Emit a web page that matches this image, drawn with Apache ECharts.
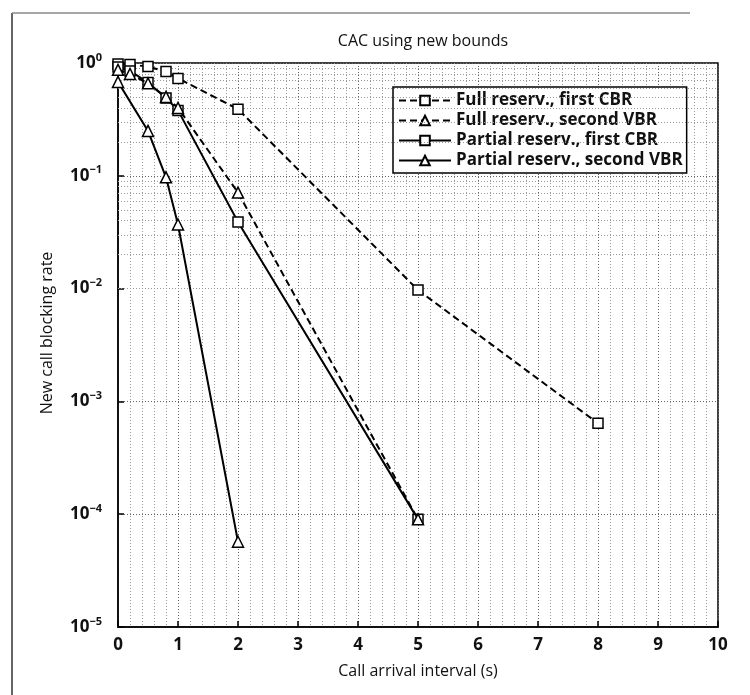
<!DOCTYPE html>
<html>
<head>
<meta charset="utf-8">
<script src="https://cdn.jsdelivr.net/npm/echarts@6/dist/echarts.min.js"></script>
<style>
  html, body { margin: 0; padding: 0; background: #fff; }
  #chart { width: 750px; height: 695px; }
</style>
</head>
<body>
<div id="chart"></div>
<script>
// Blocking probability of new calls versus call arrival interval
const seriesNames = [
  'Full reserv., first CBR',
  'Full reserv., second VBR',
  'Partial reserv., first CBR',
  'Partial reserv., second VBR'
];

const xFullCBR = [0, 0.2, 0.5, 0.8, 1, 2, 5, 8];
const yFullCBR = [0.98, 0.97, 0.93, 0.84, 0.73, 0.39, 0.0097, 0.00064];

const xFullVBR = [0, 0.2, 0.5, 0.8, 1, 2, 5];
const yFullVBR = [0.87, 0.80, 0.66, 0.50, 0.40, 0.071, 0.00009];

const xPartCBR = [0, 0.2, 0.5, 0.8, 1, 2, 5];
const yPartCBR = [0.92, 0.85, 0.67, 0.49, 0.38, 0.039, 0.00009];

const xPartVBR = [0, 0.5, 0.8, 1, 2];
const yPartVBR = [0.68, 0.25, 0.097, 0.037, 0.000057];

const xTicks = [0, 1, 2, 3, 4, 5, 6, 7, 8, 9, 10];
const yTickExps = [0, -1, -2, -3, -4, -5];

const zip = (xs, ys) => xs.map((x, i) => [x, ys[i]]);

// dotted minor grid at 2..9 of each decade
const minorGrid = [];
yTickExps.slice(1).forEach(e => {
  for (let m = 2; m <= 9; m++) minorGrid.push({ yAxis: m * Math.pow(10, e) });
});

const FONT = '"Open Sans", "Noto Sans", sans-serif';
const markerStyle = { color: '#fff', borderColor: '#000', borderWidth: 1.5 };

function makeSeries(name, data, symbol, dashed, size, z) {
  return {
    name: name,
    type: 'line',
    data: data,
    symbol: symbol,
    symbolSize: size,
    showAllSymbol: true,
    clip: true,
    lineStyle: { color: '#000', width: 2, type: dashed ? [7, 4] : 'solid' },
    itemStyle: markerStyle,
    z: z
  };
}

const chart = echarts.init(document.getElementById('chart'), null, { renderer: 'canvas' });

chart.setOption({
  backgroundColor: '#fff',
  animation: false,
  title: {
    text: 'CAC using new bounds',
    left: 418, top: 28, textAlign: 'center',
    textStyle: { fontFamily: FONT, fontSize: 16, fontWeight: 'normal', color: '#111' }
  },
  grid: {
    left: 118, top: 63, width: 600, height: 564,
    show: true, borderColor: '#000', borderWidth: 1.5, backgroundColor: 'transparent'
  },
  legend: {
    orient: 'vertical',
    left: 393, top: 87,
    itemWidth: 52, itemHeight: 12, itemGap: 3,
    padding: [5, 4, 4, 5],
    backgroundColor: '#fff',
    borderColor: '#000', borderWidth: 1.5, borderRadius: 0,
    textStyle: { fontFamily: FONT, fontSize: 17, fontWeight: 'bold', color: '#111' },
    data: seriesNames
  },
  xAxis: {
    type: 'value',
    min: 0, max: 10, interval: 1,
    name: 'Call arrival interval (s)',
    nameLocation: 'middle', nameGap: 36,
    nameTextStyle: { fontFamily: FONT, fontSize: 16, color: '#111' },
    axisLine: { lineStyle: { color: '#000', width: 1.5 } },
    axisTick: { inside: true, length: 6, lineStyle: { color: '#000', width: 1.5 } },
    axisLabel: {
      margin: 10, fontFamily: FONT, fontSize: 17, fontWeight: 'bold', color: '#111',
      formatter: v => (xTicks.indexOf(v) >= 0 ? String(v) : '')
    },
    splitLine: { show: true, lineStyle: { color: '#666', type: [1, 2], width: 1 } },
    minorTick: { show: false, splitNumber: 5 },
    minorSplitLine: { show: true, lineStyle: { color: '#999', type: [1, 2], width: 1 } }
  },
  yAxis: {
    type: 'log',
    logBase: 10,
    min: 1e-5, max: 1,
    axisLine: { lineStyle: { color: '#000', width: 1.5 } },
    axisTick: { inside: true, length: 6, lineStyle: { color: '#000', width: 1.5 } },
    axisLabel: {
      margin: 16,
      formatter: v => {
        const e = Math.round(Math.log10(v));
        if (yTickExps.indexOf(e) < 0) return '';
        const sup = e === 0 ? '0' : '\u2212' + (-e);
        return '{b|10}{s|' + sup + '}';
      },
      rich: {
        b: { fontFamily: FONT, fontSize: 17, fontWeight: 'bold', color: '#111', lineHeight: 22 },
        s: { fontFamily: FONT, fontSize: 11, fontWeight: 'bold', color: '#111', verticalAlign: 'top', lineHeight: 12 }
      }
    },
    splitLine: { show: true, lineStyle: { color: '#666', type: [1, 2], width: 1 } }
  },
  graphic: [
    {
      type: 'text',
      rotation: Math.PI / 2,
      x: 47, y: 333,
      style: {
        text: 'New call blocking rate',
        fontFamily: FONT, fontSize: 16, fill: '#111',
        textAlign: 'center', textVerticalAlign: 'middle'
      }
    },
    {
      type: 'line',
      shape: { x1: 12, y1: 13, x2: 12, y2: 695 },
      style: { stroke: '#333', lineWidth: 1.5 }
    },
    {
      type: 'line',
      shape: { x1: 12, y1: 13, x2: 690, y2: 13 },
      style: { stroke: '#888', lineWidth: 1.5 }
    }
  ],
  series: [
    {
      name: 'minor-grid',
      type: 'line',
      data: [],
      silent: true,
      markLine: {
        silent: true, symbol: 'none', label: { show: false },
        lineStyle: { color: '#999', type: [1, 2], width: 1 },
        data: minorGrid
      },
      z: 1
    },
    makeSeries(seriesNames[0], zip(xFullCBR, yFullCBR), 'rect', true, 10, 5),
    makeSeries(seriesNames[1], zip(xFullVBR, yFullVBR), 'triangle', true, 11, 7),
    makeSeries(seriesNames[2], zip(xPartCBR, yPartCBR), 'rect', false, 10, 6),
    makeSeries(seriesNames[3], zip(xPartVBR, yPartVBR), 'triangle', false, 11, 5)
  ]
});
</script>
</body>
</html>
